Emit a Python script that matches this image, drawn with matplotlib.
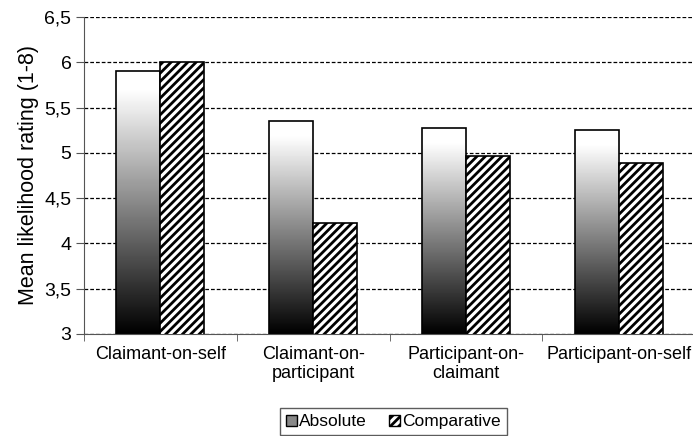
import numpy as np
import matplotlib.pyplot as plt
from matplotlib.patches import Patch

categories = ['Claimant-on-self', 'Claimant-on-\nparticipant', 'Participant-on-\nclaimant', 'Participant-on-self']
absolute = [5.90, 5.35, 5.27, 5.25]
comparative = [6.00, 4.22, 4.97, 4.89]
yticks = [3, 3.5, 4, 4.5, 5, 5.5, 6, 6.5]
ytick_labels = ['3', '3,5', '4', '4,5', '5', '5,5', '6', '6,5']

plt.rcParams['font.family'] = ['Liberation Sans', 'DejaVu Sans']
plt.rcParams['hatch.linewidth'] = 2.0

fig = plt.figure(figsize=(6.93, 4.36), dpi=100)
ax = fig.add_axes([0.1212, 0.234, 0.8817, 0.727])

x = np.arange(len(categories))
w = 0.288
ax.yaxis.grid(True, color='black', linestyle=(0, (3, 1.6)), linewidth=0.9)
ax.set_axisbelow(True)

bars_abs = ax.bar(x - w / 2, absolute, w, facecolor='none', edgecolor='black', linewidth=1.2, zorder=3)
bars_cmp = ax.bar(x + w / 2, comparative, w, facecolor='white', edgecolor='black', hatch='////', linewidth=1.2, zorder=3)

# vertical black-to-white gradient inside each absolute bar
grad = np.linspace(0, 1, 256).reshape(-1, 1)
for b in bars_abs:
    x0 = b.get_x()
    x1 = x0 + b.get_width()
    top = b.get_height()
    im = ax.imshow(grad, cmap='gray', origin='lower', aspect='auto',
                   extent=[x0, x1, 3, top], zorder=2, vmin=0, vmax=0.93)
    im.set_clip_path(b)

ax.set_xlim(-0.5, len(categories) - 0.5)
ax.set_ylim(3, 6.5)
ax.set_yticks(yticks)
ax.set_yticklabels(ytick_labels, fontsize=14)

ax.set_xticks(x)
ax.set_xticklabels(categories, fontsize=13, linespacing=1.1)
ax.tick_params(axis='x', which='major', length=0, pad=9)
ax.set_xticks(np.arange(-0.5, len(categories), 1.0), minor=True)
ax.tick_params(axis='x', which='minor', length=5, direction='out', color='#555555')
ax.tick_params(axis='y', length=6, direction='out', color='#555555', pad=3)

for s in ['top', 'right']:
    ax.spines[s].set_visible(False)
ax.spines['left'].set_color('#555555')
ax.spines['bottom'].set_color('#555555')

ax.set_ylabel('Mean likelihood rating (1-8)', fontsize=15.5, labelpad=4)

handles = [Patch(facecolor='#888888', edgecolor='black', linewidth=1.0),
           Patch(facecolor='white', edgecolor='black', hatch='////', linewidth=1.0)]
leg = fig.legend(handles, ['Absolute', 'Comparative'], loc='upper center',
                 bbox_to_anchor=(0.568, 0.064), ncol=2, fontsize=12.5,
                 frameon=True, fancybox=False, handlelength=0.6, handleheight=0.6,
                 handletextpad=0.15, columnspacing=1.3, borderpad=0.35, borderaxespad=0)
leg.get_frame().set_edgecolor('#333333')
leg.get_frame().set_linewidth(1.0)

fig.savefig('out.png', dpi=100)
